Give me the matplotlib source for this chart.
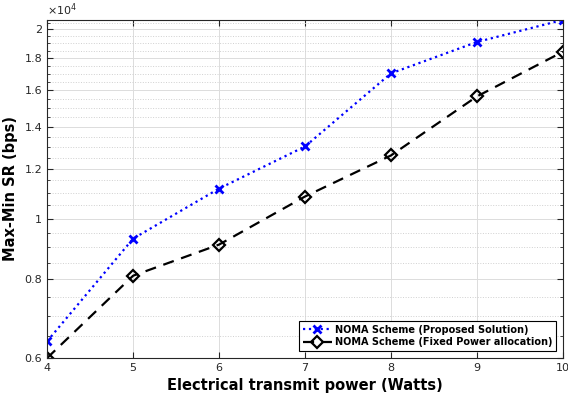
import matplotlib.pyplot as plt
from matplotlib.ticker import FixedLocator, FuncFormatter, NullLocator, NullFormatter

# data
power = [4, 5, 6, 7, 8, 9, 10]
proposed = [6380, 9290, 11160, 13020, 17020, 19090, 20700]
fixed_power = [6000, 8110, 9090, 10840, 12600, 15640, 18420]

major_ticks = [6000, 8000, 10000, 12000, 14000, 16000, 18000, 20000]
minor_ticks = [v for v in range(6000, 21000, 500) if v not in major_ticks]

fig = plt.figure(figsize=(5.68, 3.98), dpi=100)
ax = fig.add_axes([0.083, 0.1005, 0.908, 0.8495])

ax.plot(power, proposed, color="blue", linestyle=":", linewidth=1.6,
        marker="x", markersize=6, markeredgewidth=2,
        label="NOMA Scheme (Proposed Solution)")
ax.plot(power, fixed_power, color="black", linestyle="--", linewidth=1.6,
        dashes=(5, 3.5), marker="D", markersize=6.5, markeredgewidth=1.6,
        markerfacecolor="none", label="NOMA Scheme (Fixed Power allocation)")

ax.set_yscale("log")
ax.set_xlim(4, 10)
ax.set_ylim(6000, 20700)
ax.set_xticks(power)
ax.xaxis.set_minor_locator(NullLocator())
ax.yaxis.set_major_locator(FixedLocator(major_ticks))
ax.yaxis.set_minor_locator(FixedLocator(minor_ticks))
ax.yaxis.set_major_formatter(FuncFormatter(lambda v, p: "%g" % (v / 1e4)))
ax.yaxis.set_minor_formatter(NullFormatter())

ax.tick_params(which="both", direction="in", top=True, right=True,
               colors="#262626", labelsize=8, labelcolor="#262626")
ax.tick_params(which="major", length=4)
ax.tick_params(which="minor", length=2)
for s in ax.spines.values():
    s.set_color("#262626")
    s.set_linewidth(0.8)

ax.grid(which="major", color="#dcdcdc", linewidth=0.7)
ax.grid(which="minor", axis="y", color="#d0d0d0", linestyle=":", linewidth=0.7)
ax.set_axisbelow(True)

ax.text(0, 1.005, r"$\times10^{4}$", transform=ax.transAxes, fontsize=8,
        color="#262626", ha="left", va="bottom")

ax.set_xlabel("Electrical transmit power (Watts)", fontsize=10.5, fontweight="bold")
ax.set_ylabel("Max-Min SR (bps)", fontsize=10.5, fontweight="bold", labelpad=5)

leg = ax.legend(loc="lower right", prop={"weight": "bold", "size": 7},
                fancybox=False, edgecolor="black", framealpha=1,
                borderaxespad=0.7, handlelength=3, handletextpad=0.3,
                borderpad=0.4, labelspacing=0.25)
leg.get_frame().set_linewidth(0.8)

plt.savefig("out.png", dpi=100)
